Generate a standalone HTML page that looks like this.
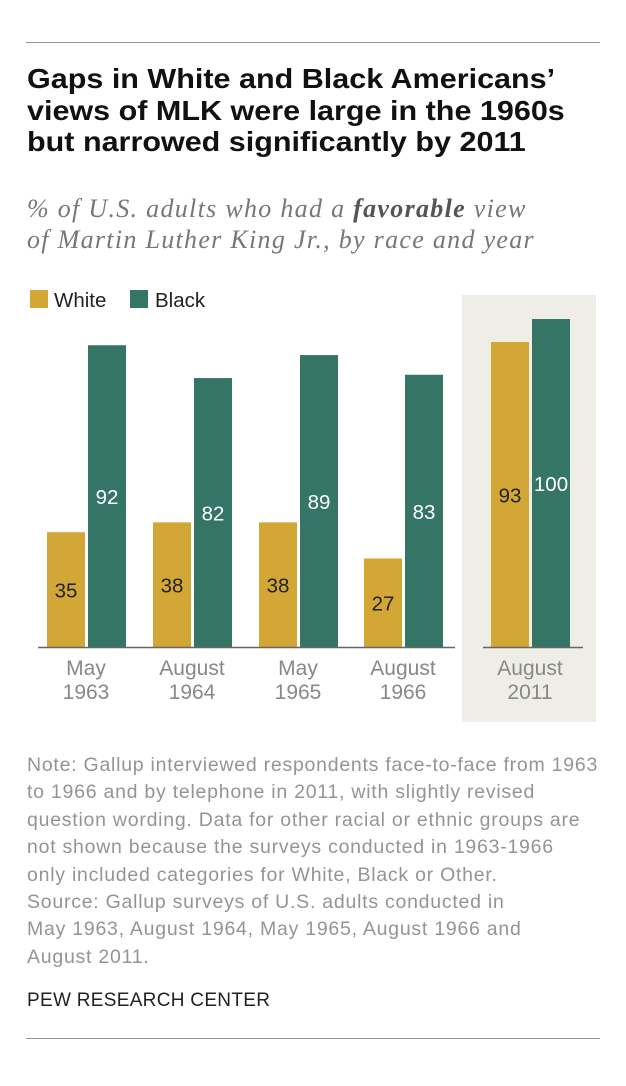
<!DOCTYPE html>
<html><head><meta charset="utf-8"><style>
body{margin:0;background:#fff;width:626px;height:1086px;overflow:hidden;font-family:"Liberation Sans",sans-serif;position:relative}
.abs{position:absolute}
</style></head><body>
<div class="abs" style="left:26px;top:42px;width:574px;height:1px;background:#999"></div>
<div class="abs" style="left:27px;top:63px;font-size:27.5px;font-weight:bold;line-height:31.5px;color:#111;white-space:nowrap;transform:scaleX(1.11);transform-origin:0 0">Gaps in White and Black Americans’<br>views of MLK were large in the 1960s<br>but narrowed significantly by 2011</div>
<div class="abs" style="left:27px;top:193px;width:600px;font-family:'Liberation Serif',serif;font-style:italic;font-size:26px;line-height:31px;color:#777;white-space:nowrap;letter-spacing:1.3px">% of U.S. adults who had a <b style="color:#555">favorable</b> view<br>of Martin Luther King Jr., by race and year</div>
<svg class="abs" style="left:0;top:0" width="626" height="740" id="chart"></svg>
<div class="abs" style="left:27px;top:752px;width:600px;font-size:19.5px;line-height:27.4px;color:#949494;white-space:nowrap;letter-spacing:0.75px">Note: Gallup interviewed respondents face-to-face from 1963<br>to 1966 and by telephone in 2011, with slightly revised<br>question wording. Data for other racial or ethnic groups are<br>not shown because the surveys conducted in 1963-1966<br>only included categories for White, Black or Other.<br>Source: Gallup surveys of U.S. adults conducted in<br>May 1963, August 1964, May 1965, August 1966 and<br>August 2011.</div>
<div class="abs" style="left:27px;top:990px;font-size:19px;color:#222;letter-spacing:0.3px">PEW RESEARCH CENTER</div>
<div class="abs" style="left:26px;top:1038px;width:574px;height:1px;background:#999"></div>
<script>
const categories=[["May","1963"],["August","1964"],["May","1965"],["August","1966"],["August","2011"]];
const whiteValues=[35,38,38,27,93];
const blackValues=[92,82,89,83,100];
const NS="http://www.w3.org/2000/svg";
const svg=document.getElementById('chart');
const base=647, scale=3.28;
const y=v=>base-v*scale;
const centers=[86,192,298,403,530];
function el(t,a){const e=document.createElementNS(NS,t);for(const k in a)e.setAttribute(k,a[k]);svg.appendChild(e);return e;}
const hl=el('rect',{x:462,y:295,width:134,height:427,fill:'#efeee6'});


const lg1=el('rect',{x:30,y:290,width:18,height:18,fill:'#d3a736'});


const lt1=el('text',{x:54,y:307,'font-size':20.5,fill:'#222'});lt1.textContent='White';


const lg2=el('rect',{x:130,y:290,width:18,height:18,fill:'#357565'});


const lt2=el('text',{x:155,y:307,'font-size':20.5,fill:'#222'});lt2.textContent='Black';


categories.forEach((c,i)=>{
  const cx=centers[i];
  const w=whiteValues[i], b=blackValues[i];
  const r1=el('rect',{x:cx-39,y:y(w),width:38,height:base-y(w),fill:'#d3a736'});
  
  
  const r2=el('rect',{x:cx+2,y:y(b),width:38,height:base-y(b),fill:'#357565'});
  
  
  const t1=el('text',{x:cx-20,y:(y(w)+base)/2+8,'font-size':20.5,fill:'#222','text-anchor':'middle'});t1.textContent=w;
  
  
  const t2=el('text',{x:cx+21,y:(y(b)+base)/2+8,'font-size':20.5,fill:'#fff','text-anchor':'middle'});t2.textContent=b;
  
  
  c.forEach((s,j)=>{
    const t=el('text',{x:cx,y:675+j*24,'font-size':21,fill:'#888','text-anchor':'middle'});t.textContent=s;
    
    
  });
});
const a1=el('line',{x1:38,x2:455,y1:base+0.5,y2:base+0.5,stroke:'#666','stroke-width':1.5});


const a2=el('line',{x1:483,x2:583,y1:base+0.5,y2:base+0.5,stroke:'#666','stroke-width':1.5});


</script>
</body></html>
